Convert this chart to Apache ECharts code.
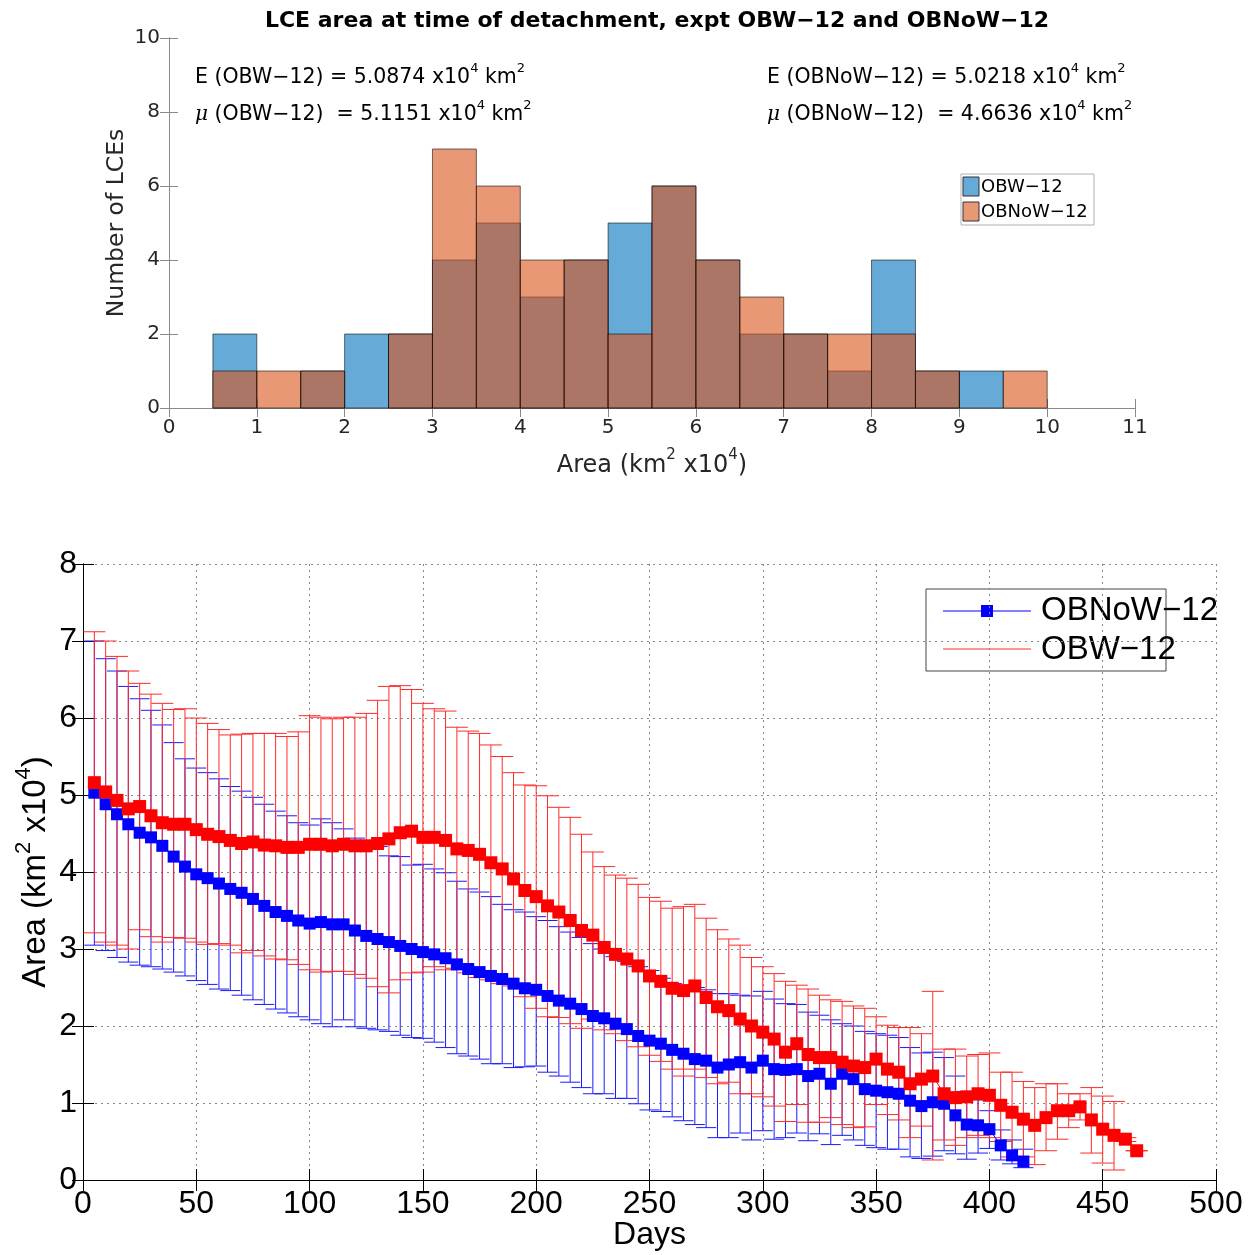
<!DOCTYPE html>
<html lang="en">
<head>
<meta charset="UTF-8" />
<title>LCE area</title>
<script src="https://cdn.jsdelivr.net/npm/echarts@6.0.0/dist/echarts.min.js"></script>
<style>
  html, body { margin: 0; padding: 0; background: #fff; }
  #chart { width: 1255px; height: 1255px; }
</style>
</head>
<body>
<div id="chart"></div>
<script>
// ---- top panel: histogram of LCE area at detachment ----
const binLeft  = [0.5, 1, 1.5, 2, 2.5, 3, 3.5, 4, 4.5, 5, 5.5, 6, 6.5, 7, 7.5, 8, 8.5, 9, 9.5];
const binRight = [1, 1.5, 2, 2.5, 3, 3.5, 4, 4.5, 5, 5.5, 6, 6.5, 7, 7.5, 8, 8.5, 9, 9.5, 10];
const countOBW   = [2, 0, 1, 2, 2, 4, 5, 3, 4, 5, 6, 4, 2, 2, 1, 4, 1, 1, 0];
const countOBNoW = [1, 1, 1, 0, 2, 7, 6, 4, 4, 2, 6, 4, 3, 2, 2, 2, 1, 0, 1];

// ---- bottom panel: area vs days, mean with error bars ----
const daysOBW = [5, 10, 15, 20, 25, 30, 35, 40, 45, 50, 55, 60, 65, 70, 75, 80, 85, 90, 95, 100,
  105, 110, 115, 120, 125, 130, 135, 140, 145, 150, 155, 160, 165, 170, 175, 180, 185, 190, 195, 200,
  205, 210, 215, 220, 225, 230, 235, 240, 245, 250, 255, 260, 265, 270, 275, 280, 285, 290, 295, 300,
  305, 310, 315, 320, 325, 330, 335, 340, 345, 350, 355, 360, 365, 370, 375, 380, 385, 390, 395, 400,
  405, 410, 415, 420, 425, 430, 435, 440, 445, 450, 455, 460, 465];
const meanOBW = [5.16, 5.04, 4.93, 4.82, 4.85, 4.73, 4.64, 4.62, 4.62, 4.55, 4.49, 4.46, 4.41, 4.37, 4.39, 4.35, 4.34, 4.32, 4.32, 4.36,
  4.36, 4.34, 4.36, 4.34, 4.34, 4.37, 4.43, 4.51, 4.53, 4.45, 4.45, 4.41, 4.30, 4.28, 4.23, 4.12, 4.04, 3.91, 3.76, 3.68,
  3.56, 3.48, 3.37, 3.24, 3.18, 3.02, 2.93, 2.87, 2.78, 2.65, 2.58, 2.49, 2.46, 2.52, 2.37, 2.25, 2.20, 2.09, 2.00, 1.92,
  1.83, 1.66, 1.77, 1.63, 1.59, 1.59, 1.53, 1.48, 1.46, 1.57, 1.44, 1.40, 1.25, 1.31, 1.35, 1.12, 1.07, 1.08, 1.12, 1.10,
  0.97, 0.88, 0.79, 0.71, 0.81, 0.90, 0.90, 0.95, 0.78, 0.66, 0.58, 0.53, 0.38];
const highOBW = [7.12, 7.00, 6.80, 6.61, 6.45, 6.31, 6.19, 6.11, 6.12, 6.00, 5.93, 5.85, 5.78, 5.79, 5.80, 5.80, 5.80, 5.76, 5.82, 6.03,
  6.01, 5.99, 6.01, 6.01, 6.06, 6.23, 6.41, 6.42, 6.37, 6.19, 6.12, 6.09, 5.88, 5.83, 5.80, 5.65, 5.50, 5.29, 5.13, 5.12,
  4.99, 4.84, 4.71, 4.49, 4.26, 4.07, 3.96, 3.92, 3.84, 3.67, 3.62, 3.53, 3.55, 3.58, 3.40, 3.25, 3.13, 3.05, 2.89, 2.77,
  2.68, 2.58, 2.53, 2.48, 2.40, 2.34, 2.32, 2.26, 2.23, 2.12, 2.01, 1.98, 1.98, 1.90, 2.45, 1.70, 1.70, 1.61, 1.63, 1.65,
  1.40, 1.40, 1.28, 1.20, 1.25, 1.25, 1.12, 1.12, 1.20, 1.09, 1.02, 0.55, 0.38];
const lowOBW = [3.21, 3.09, 3.05, 3.00, 3.25, 3.16, 3.09, 3.15, 3.14, 3.09, 3.06, 3.07, 3.05, 2.95, 2.98, 2.91, 2.87, 2.86, 2.80, 2.73,
  2.70, 2.71, 2.71, 2.67, 2.62, 2.51, 2.43, 2.60, 2.69, 2.70, 2.77, 2.73, 2.75, 2.69, 2.63, 2.60, 2.55, 2.52, 2.38, 2.23,
  2.12, 2.11, 2.03, 1.97, 2.09, 1.95, 1.90, 1.81, 1.73, 1.62, 1.54, 1.44, 1.35, 1.44, 1.33, 1.25, 1.27, 1.12, 1.12, 1.08,
  0.96, 0.76, 0.98, 0.75, 0.75, 0.81, 0.72, 0.68, 0.69, 0.98, 0.85, 0.78, 0.55, 0.70, 0.26, 0.52, 0.45, 0.55, 0.58, 0.55,
  0.50, 0.30, 0.30, 0.20, 0.38, 0.53, 0.68, 0.78, 0.35, 0.22, 0.13, 0.50, 0.38];

const daysOBNoW = [5, 10, 15, 20, 25, 30, 35, 40, 45, 50, 55, 60, 65, 70, 75, 80, 85, 90, 95, 100,
  105, 110, 115, 120, 125, 130, 135, 140, 145, 150, 155, 160, 165, 170, 175, 180, 185, 190, 195, 200,
  205, 210, 215, 220, 225, 230, 235, 240, 245, 250, 255, 260, 265, 270, 275, 280, 285, 290, 295, 300,
  305, 310, 315, 320, 325, 330, 335, 340, 345, 350, 355, 360, 365, 370, 375, 380, 385, 390, 395, 400,
  405, 410, 415];
const meanOBNoW = [5.03, 4.88, 4.75, 4.62, 4.51, 4.45, 4.34, 4.20, 4.07, 3.97, 3.92, 3.85, 3.78, 3.73, 3.65, 3.56, 3.48, 3.43, 3.37, 3.33,
  3.35, 3.32, 3.32, 3.24, 3.17, 3.13, 3.09, 3.04, 3.00, 2.96, 2.93, 2.88, 2.80, 2.74, 2.70, 2.65, 2.61, 2.55, 2.49, 2.47,
  2.39, 2.33, 2.29, 2.22, 2.13, 2.10, 2.03, 1.96, 1.87, 1.81, 1.77, 1.69, 1.64, 1.57, 1.55, 1.46, 1.50, 1.53, 1.46, 1.55,
  1.44, 1.43, 1.44, 1.35, 1.38, 1.25, 1.38, 1.31, 1.18, 1.16, 1.14, 1.12, 1.03, 0.96, 1.01, 0.99, 0.84, 0.72, 0.71, 0.66,
  0.45, 0.32, 0.24];
const highOBNoW = [7.00, 6.77, 6.61, 6.41, 6.25, 6.10, 5.91, 5.68, 5.47, 5.35, 5.29, 5.21, 5.11, 5.05, 4.97, 4.88, 4.79, 4.73, 4.64, 4.61,
  4.69, 4.64, 4.56, 4.44, 4.41, 4.33, 4.21, 4.20, 4.09, 4.10, 4.04, 3.99, 3.88, 3.78, 3.74, 3.68, 3.58, 3.51, 3.48, 3.42,
  3.37, 3.29, 3.22, 3.15, 3.07, 3.00, 2.90, 2.84, 2.77, 2.72, 2.62, 2.55, 2.52, 2.50, 2.47, 2.42, 2.42, 2.40, 2.39, 2.45,
  2.35, 2.29, 2.28, 2.18, 2.14, 2.08, 2.03, 2.00, 1.93, 1.90, 1.88, 1.85, 1.72, 1.65, 1.66, 1.59, 1.35, 1.15, 1.04, 0.90,
  0.65, 0.52, 0.40];
const lowOBNoW = [3.05, 2.98, 2.89, 2.83, 2.79, 2.77, 2.74, 2.70, 2.65, 2.59, 2.54, 2.48, 2.46, 2.40, 2.34, 2.28, 2.22, 2.17, 2.12, 2.08,
  2.03, 1.99, 2.08, 1.99, 1.97, 1.95, 1.93, 1.88, 1.85, 1.84, 1.79, 1.72, 1.64, 1.61, 1.57, 1.51, 1.51, 1.46, 1.47, 1.48,
  1.40, 1.35, 1.27, 1.20, 1.12, 1.12, 1.06, 1.06, 0.99, 0.91, 0.89, 0.82, 0.77, 0.72, 0.68, 0.55, 0.55, 0.61, 0.52, 0.64,
  0.53, 0.55, 0.61, 0.51, 0.60, 0.46, 0.58, 0.52, 0.45, 0.42, 0.40, 0.40, 0.30, 0.28, 0.31, 0.38, 0.34, 0.27, 0.35, 0.41,
  0.26, 0.21, 0.16];

const chart = echarts.init(document.getElementById('chart'), null, { renderer: 'canvas' });

const TOPFONT = 'DejaVu Sans';
const BOTFONT = 'Liberation Sans';
const topAxisColor = '#8a8a8a';
const topTextColor = '#262626';

function histItem(fill) {
  return function (params, api) {
    const p0 = api.coord([api.value(0), api.value(2)]);
    const p1 = api.coord([api.value(1), 0]);
    return {
      type: 'rect',
      shape: { x: p0[0], y: p0[1], width: p1[0] - p0[0], height: p1[1] - p0[1] },
      style: { fill: fill, stroke: 'rgba(0,0,0,0.55)', lineWidth: 1 }
    };
  };
}

function histData(counts) {
  const out = [];
  counts.forEach((c, i) => { if (c > 0) out.push([binLeft[i], binRight[i], c]); });
  return out;
}

function errorBarItem(color, half) {
  return function (params, api) {
    const x = api.value(0);
    const lo = api.coord([x, api.value(1)]);
    const hi = api.coord([x, api.value(2)]);
    const st = { stroke: color, lineWidth: 1 };
    return {
      type: 'group',
      children: [
        { type: 'line', shape: { x1: lo[0], y1: lo[1], x2: hi[0], y2: hi[1] }, style: st },
        { type: 'line', shape: { x1: lo[0] - half, y1: lo[1], x2: lo[0] + half, y2: lo[1] }, style: st },
        { type: 'line', shape: { x1: hi[0] - half, y1: hi[1], x2: hi[0] + half, y2: hi[1] }, style: st }
      ]
    };
  };
}

const supRich = (size, lh) => ({ sup: { fontSize: size, lineHeight: lh, verticalAlign: 'top' } });

const topAxisBase = {
  nameMoveOverlap: false,
  axisLine: { show: true, lineStyle: { color: topAxisColor, width: 1 } },
  axisTick: { show: true, inside: true, length: 9, lineStyle: { color: topAxisColor } },
  splitLine: { show: false }
};
const botAxisBase = {
  nameMoveOverlap: false,
  axisLine: { show: true, lineStyle: { color: '#000', width: 1 } },
  axisTick: { show: true, inside: true, length: 11, lineStyle: { color: '#000' } }
};
const dotted = { show: true, lineStyle: { color: '#888', type: [2, 4], width: 1 } };

const annoStyle = (text, x, y) => ({
  type: 'text', x: x, y: y,
  style: {
    text: text, fill: '#000', fontSize: 20.5, fontFamily: TOPFONT,
    lineHeight: 32, verticalAlign: 'middle',
    rich: {
      sup: { fontSize: 13, lineHeight: 13, verticalAlign: 'top', fontFamily: TOPFONT },
      it: { fontStyle: 'italic', fontSize: 20, fontFamily: 'DejaVu Serif' }
    }
  }
});

const option = {
  animation: false,
  backgroundColor: '#fff',
  title: {
    text: 'LCE area at time of detachment, expt OBW\u221212 and OBNoW\u221212',
    left: 652, top: 5, textAlign: 'center',
    textStyle: { fontFamily: TOPFONT, fontWeight: 'bold', fontSize: 22, color: '#000' }
  },
  grid: [
    { left: 169, top: 38, width: 966, height: 370, outerBoundsMode: 'none' },
    { left: 83, top: 564, width: 1133, height: 616, outerBoundsMode: 'none' }
  ],
  xAxis: [
    Object.assign({}, topAxisBase, {
      gridIndex: 0, type: 'value', min: 0, max: 11, interval: 1,
      axisLabel: { fontFamily: TOPFONT, fontSize: 20, color: topTextColor, margin: 10 },
      name: 'Area (km{sup|2} x10{sup|4})', nameLocation: 'middle', nameGap: 40,
      nameTextStyle: { fontFamily: TOPFONT, fontSize: 24, lineHeight: 36, color: topTextColor, rich: supRich(15, 15) }
    }),
    Object.assign({}, topAxisBase, {
      gridIndex: 0, type: 'value', position: 'top', min: 0, max: 11, interval: 1, axisLabel: { show: false }
    }),
    Object.assign({}, botAxisBase, {
      gridIndex: 1, type: 'value', min: 0, max: 500, interval: 50,
      axisLabel: { fontFamily: BOTFONT, fontSize: 32, color: '#000', margin: 8 },
      splitLine: dotted,
      name: 'Days', nameLocation: 'middle', nameGap: 38,
      nameTextStyle: { fontFamily: BOTFONT, fontSize: 32, color: '#000', lineHeight: 34 }
    }),
    Object.assign({}, botAxisBase, {
      gridIndex: 1, type: 'value', position: 'top', min: 0, max: 500, interval: 50,
      axisLabel: { show: false }, splitLine: { show: false }
    })
  ],
  yAxis: [
    Object.assign({}, topAxisBase, {
      gridIndex: 0, type: 'value', min: 0, max: 10, interval: 2,
      axisLabel: { fontFamily: TOPFONT, fontSize: 20, color: topTextColor, margin: 9 },
      name: 'Number of LCEs', nameLocation: 'middle', nameGap: 40,
      nameTextStyle: { fontFamily: TOPFONT, fontSize: 23.5, color: topTextColor }
    }),
    Object.assign({}, topAxisBase, {
      gridIndex: 0, type: 'value', position: 'right', min: 0, max: 10, interval: 2, axisLabel: { show: false }
    }),
    Object.assign({}, botAxisBase, {
      gridIndex: 1, type: 'value', min: 0, max: 8, interval: 1,
      axisLabel: { fontFamily: BOTFONT, fontSize: 32, color: '#000', margin: 6 },
      splitLine: dotted,
      name: 'Area (km{sup|2} x10{sup|4})', nameLocation: 'middle', nameGap: 24,
      nameTextStyle: { fontFamily: BOTFONT, fontSize: 33, color: '#000', lineHeight: 46, rich: supRich(22, 22) }
    }),
    Object.assign({}, botAxisBase, {
      gridIndex: 1, type: 'value', position: 'right', min: 0, max: 8, interval: 1,
      axisLabel: { show: false }, splitLine: { show: false }
    })
  ],
  series: [
    {
      name: 'OBW-12 hist', type: 'custom', xAxisIndex: 0, yAxisIndex: 0,
      renderItem: histItem('rgba(0,114,189,0.6)'),
      encode: { x: [0, 1], y: 2 },
      data: histData(countOBW)
    },
    {
      name: 'OBNoW-12 hist', type: 'custom', xAxisIndex: 0, yAxisIndex: 0,
      renderItem: histItem('rgba(217,83,25,0.6)'),
      encode: { x: [0, 1], y: 2 },
      data: histData(countOBNoW)
    },
    {
      name: 'OBNoW-12 err', type: 'custom', xAxisIndex: 2, yAxisIndex: 2,
      renderItem: errorBarItem('#1a1aff', 10),
      encode: { x: 0, y: [1, 2] },
      data: daysOBNoW.map((d, i) => [d, lowOBNoW[i], highOBNoW[i]])
    },
    {
      name: 'OBW-12 err', type: 'custom', xAxisIndex: 2, yAxisIndex: 2,
      renderItem: errorBarItem('#ff2a2a', 11),
      encode: { x: 0, y: [1, 2] },
      data: daysOBW.map((d, i) => [d, lowOBW[i], highOBW[i]])
    },
    {
      name: 'OBNoW-12', type: 'line', xAxisIndex: 2, yAxisIndex: 2,
      symbol: 'rect', symbolSize: 12, showAllSymbol: true,
      lineStyle: { color: '#0000ff', width: 1 },
      itemStyle: { color: '#0000ff' },
      data: daysOBNoW.map((d, i) => [d, meanOBNoW[i]])
    },
    {
      name: 'OBW-12', type: 'line', xAxisIndex: 2, yAxisIndex: 2,
      symbol: 'rect', symbolSize: 13, showAllSymbol: true,
      lineStyle: { color: '#ff0000', width: 1 },
      itemStyle: { color: '#ff0000' },
      data: daysOBW.map((d, i) => [d, meanOBW[i]])
    }
  ],
  graphic: [
    annoStyle('E (OBW\u221212) = 5.0874 x10{sup|4} km{sup|2}', 195, 78),
    annoStyle('{it|\u03bc} (OBW\u221212)  = 5.1151 x10{sup|4} km{sup|2}', 195, 115),
    annoStyle('E (OBNoW\u221212) = 5.0218 x10{sup|4} km{sup|2}', 767, 78),
    annoStyle('{it|\u03bc} (OBNoW\u221212)  = 4.6636 x10{sup|4} km{sup|2}', 767, 115),
    // top legend
    { type: 'rect', shape: { x: 961, y: 174, width: 133, height: 51 },
      style: { fill: '#fff', stroke: '#b0b0b0', lineWidth: 1 } },
    { type: 'rect', shape: { x: 963, y: 177, width: 16, height: 19 },
      style: { fill: 'rgba(0,114,189,0.6)', stroke: '#333', lineWidth: 1 } },
    { type: 'rect', shape: { x: 963, y: 202, width: 16, height: 19 },
      style: { fill: 'rgba(217,83,25,0.6)', stroke: '#333', lineWidth: 1 } },
    { type: 'text', x: 981, y: 187,
      style: { text: 'OBW\u221212', fontFamily: TOPFONT, fontSize: 18, fill: '#000', verticalAlign: 'middle' } },
    { type: 'text', x: 981, y: 212,
      style: { text: 'OBNoW\u221212', fontFamily: TOPFONT, fontSize: 18, fill: '#000', verticalAlign: 'middle' } },
    // bottom legend
    { type: 'rect', shape: { x: 926, y: 589, width: 240, height: 82 },
      style: { fill: '#fff', stroke: '#444', lineWidth: 1 } },
    { type: 'line', shape: { x1: 943, y1: 611, x2: 1031, y2: 611 },
      style: { stroke: '#0000ff', lineWidth: 1 } },
    { type: 'rect', shape: { x: 981, y: 605, width: 12, height: 12 },
      style: { fill: '#0000ff' } },
    { type: 'line', shape: { x1: 943, y1: 649, x2: 1031, y2: 649 },
      style: { stroke: '#ff7070', lineWidth: 1.5 } },
    { type: 'text', x: 1041, y: 611,
      style: { text: 'OBNoW\u221212', fontFamily: BOTFONT, fontSize: 33, fill: '#000', verticalAlign: 'middle' } },
    { type: 'text', x: 1041, y: 650,
      style: { text: 'OBW\u221212', fontFamily: BOTFONT, fontSize: 33, fill: '#000', verticalAlign: 'middle' } }
  ]
};

chart.setOption(option);
</script>
</body>
</html>
